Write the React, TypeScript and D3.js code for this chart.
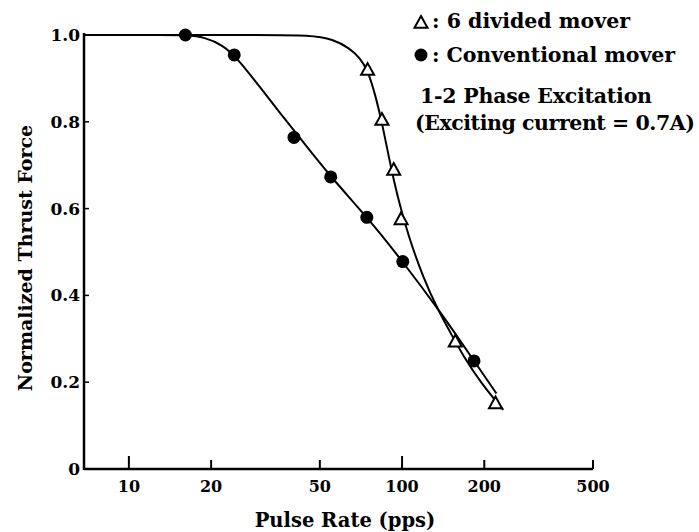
import React from "react";
import * as d3 from "d3";

// measured points (pulse rate pps, normalized thrust)
const dividedPts: [number, number][] = [
    [74.8, 0.919], [84.4, 0.804], [93.2, 0.689], [99.2, 0.575], [156.6, 0.293], [219.8, 0.151],
];
const conventionalPts: [number, number][] = [
    [16.1, 1.0], [24.3, 0.954], [40.2, 0.764], [54.8, 0.673], [74.3, 0.58], [100.6, 0.478], [183.4, 0.249],
];

// fitted curves
const dividedCurve: [number, number][] = [
    [6.85, 1.0], [30, 1.0], [46.3, 1.0], [56, 0.99], [64, 0.97], [70, 0.948], [75, 0.918],
    [80, 0.86], [85, 0.79], [90, 0.71], [96, 0.63], [105, 0.54], [120, 0.438], [135, 0.368],
    [151, 0.312], [168, 0.259], [195, 0.197], [234.6, 0.136],
];
const conventionalCurve: [number, number][] = [
    [6.85, 1.0], [14, 1.0], [16.1, 1.0], [19, 0.995], [22, 0.977], [25, 0.946], [30, 0.882],
    [36, 0.818], [43, 0.757], [55, 0.672], [75, 0.578], [100, 0.48], [140, 0.357],
    [183, 0.25], [221.6, 0.174],
];

const xTicks = [10, 20, 50, 100, 200, 500];
const xMajor = [10, 100];
const yTicks = [0, 0.2, 0.4, 0.6, 0.8, 1.0];

const font = "'DejaVu Serif', serif";

export default function App() {
    const width = 699;
    const height = 532;

    const x = d3.scaleLog().domain([6.85, 500]).range([84, 593]);
    const y = d3.scaleLinear().domain([0, 1]).range([469, 35]);

    const line = d3.line<[number, number]>()
        .x(d => x(d[0]))
        .y(d => y(d[1]))
        .curve(d3.curveBasis);

    const tri = (cx: number, cy: number, s: number) => {
        const h = s * 0.9;
        return `M${cx},${cy - h * 0.6} L${cx + s / 2},${cy + h * 0.4} L${cx - s / 2},${cy + h * 0.4} Z`;
    };

    return (
        <div style={{position: "absolute", left: 0, top: 0}}>
            <svg width={width} height={height} style={{display: "block", background: "#fff"}}>
                {/* axes */}
                <line x1={84} x2={84} y1={y(1) - 2} y2={y(0) + 1} stroke="#000" strokeWidth={2.5}/>
                <line x1={84} x2={x(500)} y1={y(0)} y2={y(0)} stroke="#000" strokeWidth={2.5}/>
                <line x1={84} x2={92} y1={y(1)} y2={y(1)} stroke="#000" strokeWidth={2}/>
                {yTicks.filter(t => t > 0 && t < 1).map(t => (
                    <line key={t} x1={84} x2={89} y1={y(t)} y2={y(t)} stroke="#000" strokeWidth={1.5}/>
                ))}
                {yTicks.map(t => (
                    <text key={t} x={80} y={y(t) + 6} textAnchor="end" fontFamily={font}
                          fontWeight="bold" fontSize={17}>{t === 0 ? "0" : t.toFixed(1)}</text>
                ))}
                {xTicks.map(t => (
                    <g key={t}>
                        <line x1={x(t)} x2={x(t)} y1={y(0)} y2={y(0) - (xMajor.includes(t) ? 13 : 9)}
                              stroke="#000" strokeWidth={2}/>
                        <text x={x(t)} y={492} textAnchor="middle" fontFamily={font}
                              fontWeight="bold" fontSize={16}>{t}</text>
                    </g>
                ))}
                <text x={345} y={527} textAnchor="middle" fontFamily={font} fontWeight="bold"
                      fontSize={19.5}>Pulse Rate (pps)</text>
                <text transform={`translate(32,258) rotate(-90)`} textAnchor="middle" fontFamily={font}
                      fontWeight="bold" fontSize={19}>Normalized Thrust Force</text>

                {/* curves */}
                <path d={line(dividedCurve) ?? ""} fill="none" stroke="#000" strokeWidth={2}/>
                <path d={line(conventionalCurve) ?? ""} fill="none" stroke="#000" strokeWidth={2}/>

                {/* markers */}
                {conventionalPts.map((d, i) => (
                    <circle key={i} cx={x(d[0])} cy={y(d[1])} r={6.5} fill="#000"/>
                ))}
                {dividedPts.map((d, i) => (
                    <path key={i} d={tri(x(d[0]), y(d[1]), 13)} fill="#fff" stroke="#000" strokeWidth={2}/>
                ))}

                {/* legend */}
                <path d={tri(421, 23, 13)} fill="#fff" stroke="#000" strokeWidth={2}/>
                <text x={432} y={28} fontFamily={font} fontWeight="bold" fontSize={20.5}
                      textLength={198} lengthAdjust="spacing">: 6 divided mover</text>
                <circle cx={421} cy={55} r={6.5} fill="#000"/>
                <text x={432} y={62} fontFamily={font} fontWeight="bold" fontSize={20.5}
                      textLength={243} lengthAdjust="spacing">: Conventional mover</text>
                <text x={420} y={103} fontFamily={font} fontWeight="bold" fontSize={20.5}
                      textLength={232} lengthAdjust="spacing">1-2 Phase Excitation</text>
                <text x={415} y={130} fontFamily={font} fontWeight="bold" fontSize={20.5}
                      textLength={280} lengthAdjust="spacing">(Exciting current = 0.7A)</text>
            </svg>
        </div>
    );
}
